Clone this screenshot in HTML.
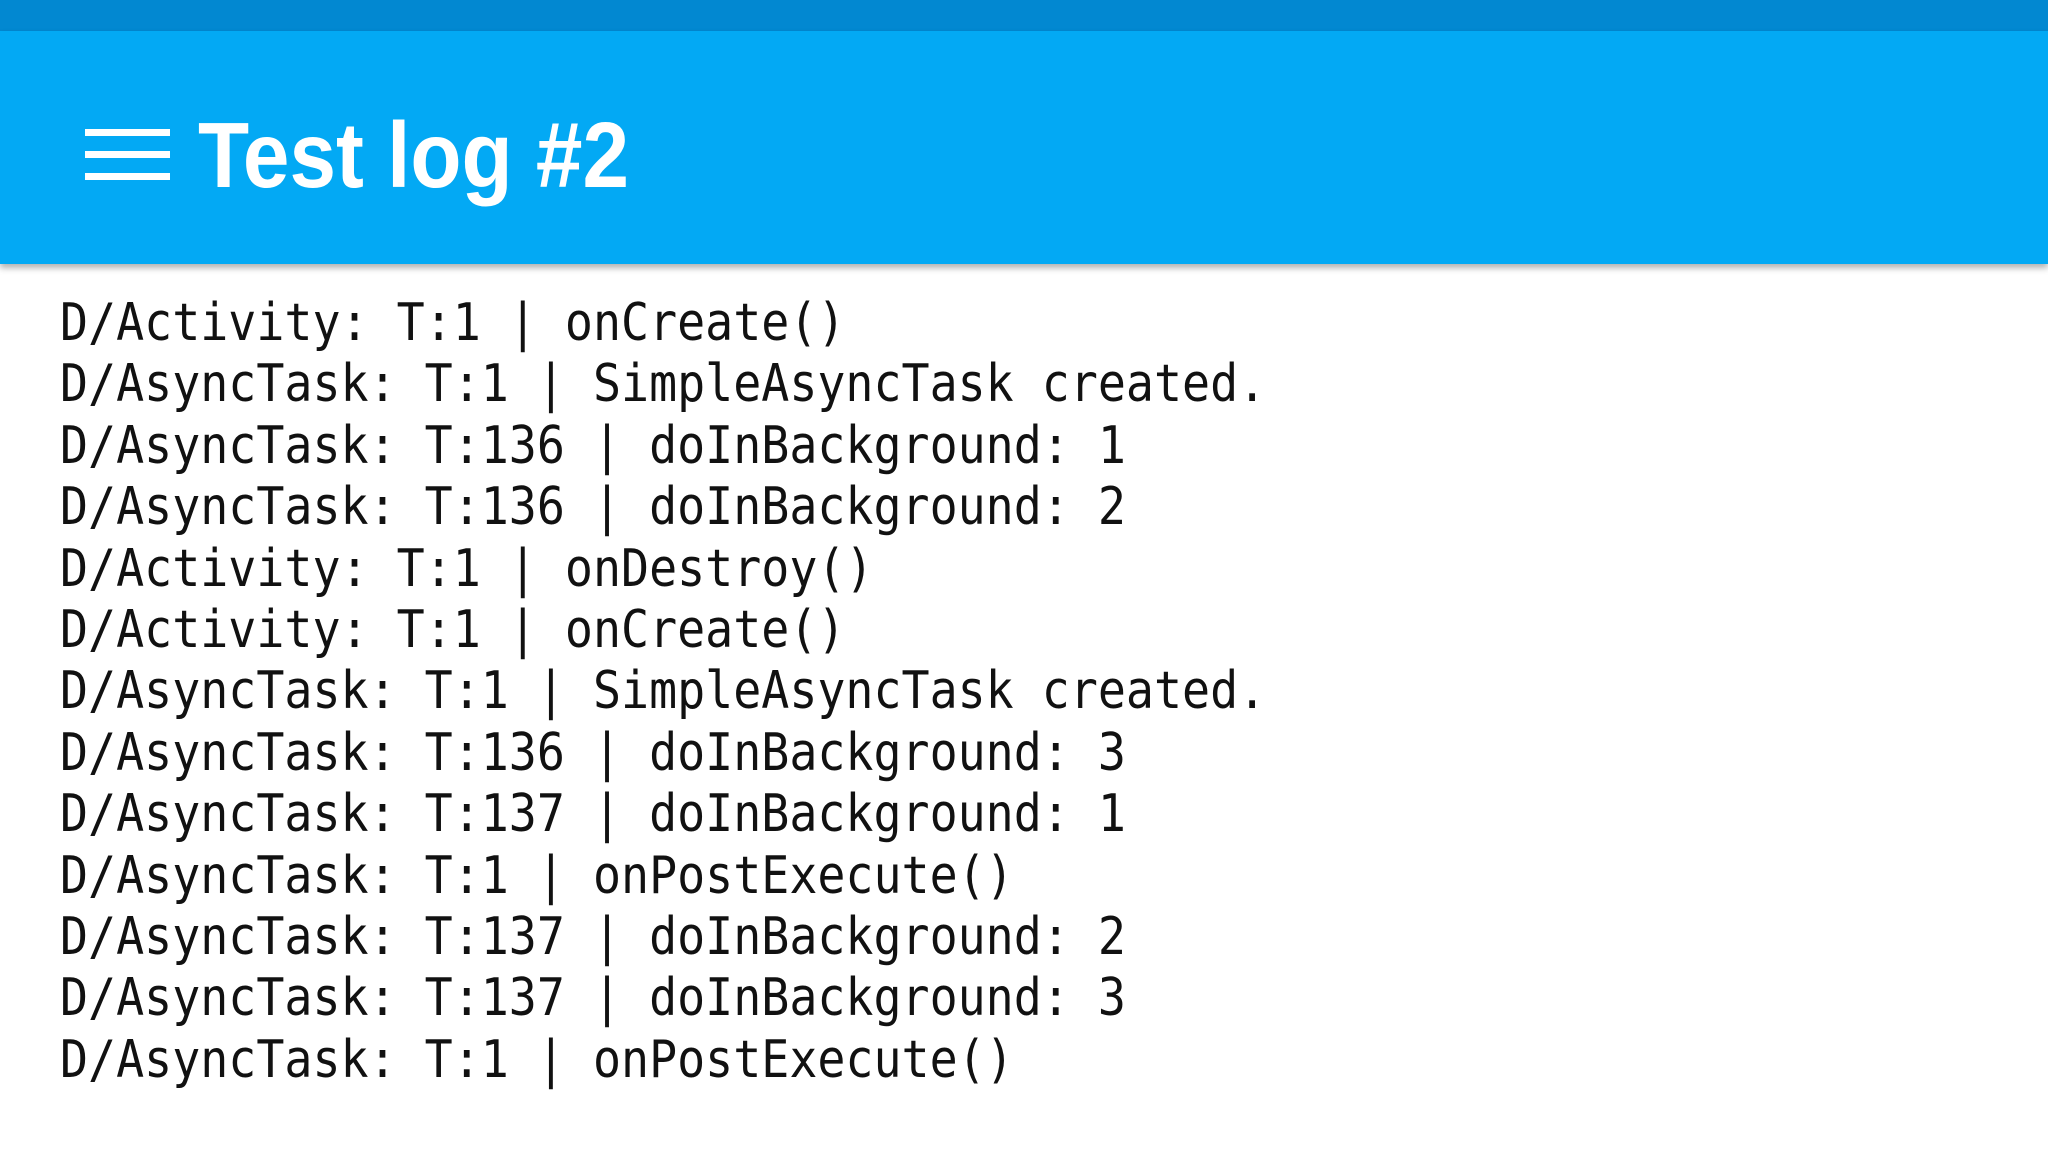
<!DOCTYPE html>
<html><head><style>
html,body{margin:0;padding:0;}
body{width:2048px;height:1152px;position:relative;background:#fff;overflow:hidden;}
.top{position:absolute;left:0;top:0;width:2048px;height:31px;background:#0288d1;}
.bar{position:absolute;left:0;top:31px;width:2048px;height:233px;background:#03a9f4;box-shadow:0 4px 6px rgba(0,0,0,0.3);}
.hb{position:absolute;left:85px;width:85px;height:7px;background:#fff;}
.title{position:absolute;left:198px;top:100px;font:bold 93px "Liberation Sans",sans-serif;color:#fff;transform:scaleX(0.9);transform-origin:left top;line-height:110px;white-space:nowrap;}
.log{position:absolute;left:60px;top:293px;font:52px "DejaVu Sans Mono",monospace;line-height:61.4px;color:#111;white-space:pre;transform:scaleX(0.896);transform-origin:left top;}
</style></head><body>
<div class="top"></div>
<div class="bar"></div>
<div class="hb" style="top:129px"></div>
<div class="hb" style="top:151px"></div>
<div class="hb" style="top:173px"></div>
<div class="title">Test log #2</div>
<div class="log">D/Activity: T:1 | onCreate()
D/AsyncTask: T:1 | SimpleAsyncTask created.
D/AsyncTask: T:136 | doInBackground: 1
D/AsyncTask: T:136 | doInBackground: 2
D/Activity: T:1 | onDestroy()
D/Activity: T:1 | onCreate()
D/AsyncTask: T:1 | SimpleAsyncTask created.
D/AsyncTask: T:136 | doInBackground: 3
D/AsyncTask: T:137 | doInBackground: 1
D/AsyncTask: T:1 | onPostExecute()
D/AsyncTask: T:137 | doInBackground: 2
D/AsyncTask: T:137 | doInBackground: 3
D/AsyncTask: T:1 | onPostExecute()</div>
</body></html>
